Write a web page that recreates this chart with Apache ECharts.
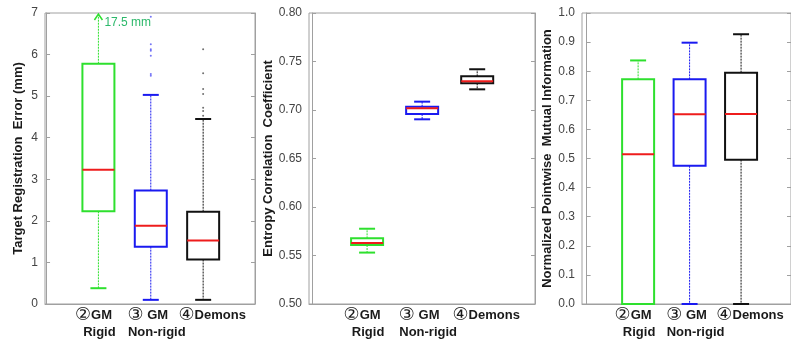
<!DOCTYPE html>
<html>
<head>
<meta charset="utf-8">
<script src="https://cdn.jsdelivr.net/npm/echarts@6/dist/echarts.min.js"></script>
<style>
  html, body { margin: 0; background: #fff; }
  #chart { width: 791px; height: 346px; }
</style>
</head>
<body>
<div id="chart"></div>
<script>
// categories and their x positions (matlab style boxplot positions)
const circled = ['②', '③', '④'];
const methodTop = ['GM', ' GM', 'Demons'];
const methodBottom = ['Rigid', 'Non-rigid', ''];
const positions = [1, 2, 3];
const boxColors = ['#2ee02e', '#1a1af0', '#111111'];

// each box: [low whisker, Q1, median, Q3, high whisker]
const treBoxes = [
  [0.38, 2.23, 3.23, 5.78, 17.5],
  [0.10, 1.38, 1.88, 2.73, 5.03],
  [0.10, 1.07, 1.53, 2.22, 4.45]
];
const treOutliers = [
  [],
  [5.49, 5.53, 5.97, 6.09, 6.13, 6.25, 6.91],
  [4.53, 4.64, 4.72, 5.05, 5.17, 5.55, 6.13]
];
const eccBoxes = [
  [0.553, 0.5608, 0.5629, 0.5677, 0.5776],
  [0.6904, 0.6959, 0.7017, 0.7034, 0.7086],
  [0.7213, 0.7275, 0.7296, 0.7347, 0.742]
];
const npmiBoxes = [
  [0.0, 0.0, 0.515, 0.772, 0.837],
  [0.0, 0.475, 0.652, 0.772, 0.898],
  [0.0, 0.496, 0.653, 0.795, 0.927]
];

const yTicks1 = [0, 7, 1];
const yTicks2 = [0.5, 0.8, 0.05];
const yTicks3 = [0, 1, 0.1];

const panels = [
  { left: 45, width: 210, xMin: -0.02, xMax: 3.99, name: 'Target Registration  Error (mm)', gap: 20, ticks: yTicks1, dec: 0, boxes: treBoxes, outliers: treOutliers },
  { left: 309, width: 226, xMin: -0.055, xMax: 4.05, name: 'Entropy Correlation  Coefficient', gap: 27, ticks: yTicks2, dec: 2, boxes: eccBoxes, outliers: [[], [], []] },
  { left: 582, width: 209, xMin: -0.09, xMax: 3.97, name: 'Normalized Pointwise  Mutual Information', gap: 22, ticks: yTicks3, dec: 1, boxes: npmiBoxes, outliers: [[], [], []] }
];

const axisGray = '#a0a0a0';
const font = '"Liberation Sans", Arial, sans-serif';
// pixel shifts of the two label lines relative to the box centre
const topShift = [-5, -3, 9];
const bottomShift = [1, 6, 0];

function renderBox(params, api) {
  const x = api.value(0);
  const idx = api.value(6);
  const c = boxColors[idx];
  const pt = v => api.coord([x, v]);
  const cx = pt(0)[0];
  const yLow = pt(api.value(1))[1];
  const yQ1 = pt(api.value(2))[1];
  const yMed = pt(api.value(3))[1];
  const yQ3 = pt(api.value(4))[1];
  let yHigh = pt(api.value(5))[1];
  const top = params.coordSys.y;
  const bottom = top + params.coordSys.height;
  const clipped = yHigh < top;
  if (clipped) yHigh = top;
  const hw = 16, cw = 8;
  const kids = [
    { type: 'line', shape: { x1: cx, y1: yQ1, x2: cx, y2: yLow }, style: { stroke: c, lineWidth: 1, lineDash: [2, 1] } },
    { type: 'line', shape: { x1: cx, y1: yQ3, x2: cx, y2: yHigh }, style: { stroke: c, lineWidth: 1, lineDash: [2, 1] } },
    { type: 'line', shape: { x1: cx - cw, y1: yLow, x2: cx + cw, y2: yLow }, style: { stroke: c, lineWidth: 2 } },
    { type: 'rect', shape: { x: cx - hw, y: yQ3, width: hw * 2, height: yQ1 - yQ3 }, style: { fill: 'none', stroke: c, lineWidth: 2 } },
    { type: 'line', shape: { x1: cx - hw, y1: yMed, x2: cx + hw, y2: yMed }, style: { stroke: '#ee1c1c', lineWidth: 2 } },
    // category label, two lines
    { type: 'text', style: {
        x: cx + topShift[idx], y: bottom + 11, text: '{c|' + circled[idx] + '}' + methodTop[idx],
        align: 'center', verticalAlign: 'middle', fill: '#1a1a1a', font: 'bold 13px ' + font,
        rich: { c: { fontSize: 18, fontWeight: 'normal', fill: '#1a1a1a', fontFamily: '"DejaVu Sans", sans-serif' } } } },
    { type: 'text', style: {
        x: cx + bottomShift[idx], y: bottom + 28, text: methodBottom[idx],
        align: 'center', verticalAlign: 'middle', fill: '#1a1a1a', font: 'bold 13px ' + font } }
  ];
  if (clipped) {
    kids.push({ type: 'polyline', shape: { points: [[cx - 4, top + 7], [cx, top + 1], [cx + 4, top + 7]] }, style: { stroke: c, fill: 'none', lineWidth: 1.5 } });
    kids.push({ type: 'text', style: { x: cx + 6, y: top + 4, text: api.value(5) + ' mm', fill: '#2cb86a', font: '12px ' + font, verticalAlign: 'top' } });
  } else {
    kids.push({ type: 'line', shape: { x1: cx - cw, y1: yHigh, x2: cx + cw, y2: yHigh }, style: { stroke: c, lineWidth: 2 } });
  }
  return { type: 'group', children: kids };
}

const grid = [], xAxis = [], yAxis = [], series = [];
panels.forEach((p, i) => {
  grid.push({ left: p.left, width: p.width, top: 13, height: 291, show: true, borderColor: axisGray, borderWidth: 1 });
  xAxis.push({
    type: 'value', gridIndex: i, min: p.xMin, max: p.xMax,
    axisLine: { show: true, lineStyle: { color: axisGray } },
    axisTick: { show: false }, splitLine: { show: false }, axisLabel: { show: false }
  });
  const t = p.ticks;
  yAxis.push({
    type: 'value', gridIndex: i, min: t[0], max: t[1], interval: t[2],
    name: p.name, nameLocation: 'middle', nameGap: p.gap,
    nameTextStyle: { fontWeight: 'bold', fontSize: 13, color: '#1a1a1a', fontFamily: font },
    axisLine: { show: true, lineStyle: { color: axisGray } },
    axisTick: { show: true, inside: true, length: 4, lineStyle: { color: axisGray } },
    splitLine: { show: false },
    axisLabel: { formatter: v => v.toFixed(p.dec), color: '#444', fontSize: 12, margin: 7, fontFamily: font }
  });
  yAxis.push({
    type: 'value', gridIndex: i, min: t[0], max: t[1], interval: t[2], position: 'right',
    axisLine: { show: true, lineStyle: { color: axisGray } },
    axisTick: { show: true, inside: true, length: 4, lineStyle: { color: axisGray } },
    axisLabel: { show: false }, splitLine: { show: false }
  });
  series.push({
    type: 'custom', xAxisIndex: i, yAxisIndex: i * 2, renderItem: renderBox, clip: false, z: 3,
    data: p.boxes.map((b, k) => [positions[k]].concat(b, [k]))
  });
  p.outliers.forEach((o, k) => {
    if (!o.length) return;
    series.push({
      type: 'scatter', xAxisIndex: i, yAxisIndex: i * 2, symbol: 'circle', symbolSize: 2,
      itemStyle: { color: boxColors[k], opacity: 0.6 }, silent: true,
      data: o.map(v => [positions[k], v])
    });
  });
});

const chart = echarts.init(document.getElementById('chart'));
chart.setOption({ animation: false, grid, xAxis, yAxis, series });
</script>
</body>
</html>
